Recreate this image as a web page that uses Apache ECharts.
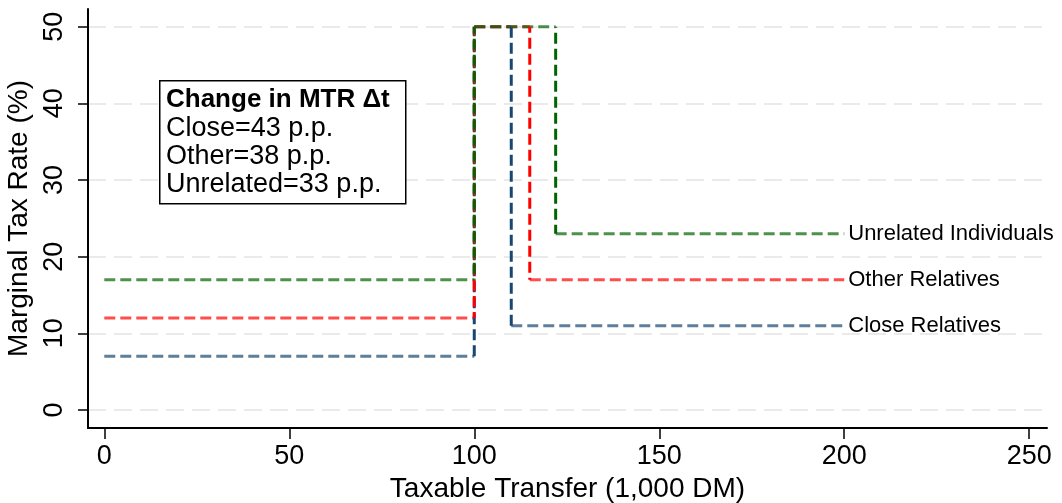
<!DOCTYPE html>
<html>
<head>
<meta charset="utf-8">
<script src="https://cdn.jsdelivr.net/npm/echarts@6/dist/echarts.min.js"></script>
<style>
  html, body { margin: 0; padding: 0; background: #fff; }
  #chart { width: 1062px; height: 503px; }
</style>
</head>
<body>
<div id="chart"></div>
<script>
// ---- data ----
const groupNames = ['Close Relatives', 'Other Relatives', 'Unrelated Individuals'];
const rateBelow = [7, 12, 17];        // MTR below threshold (%)
const rateAtJump = [50, 50, 50];      // MTR in the notch (%)
const rateAbove = [11, 17, 23];       // MTR after the notch (%)
const jumpStart = [100, 100, 100];    // transfer where notch starts (1,000 DM)
const jumpEnd = [110, 115, 122];      // transfer where notch ends (1,000 DM)
const transferStart = [0, 0, 0];
const transferEnd = [200, 200, 200];
const xTicks = [0, 50, 100, 150, 200, 250];
const yTicks = [0, 10, 20, 30, 40, 50];
const boxTitle = 'Change in MTR ';
const boxTitleSymbol = '\u0394t';
const boxLines = ['Close=43 p.p.', 'Other=38 p.p.', 'Unrelated=33 p.p.'];

const colors = ['#1a476f', '#ff0000', '#006400'];
const dashOffsets = [0, 5, 10];
const FONT = "'Liberation Sans', Arial, Helvetica, sans-serif";

const series = [];
// horizontal segments (lighter)
groupNames.forEach((name, i) => {
  series.push({
    name: name,
    type: 'line',
    symbol: 'none',
    animation: false,
    connectNulls: false,
    z: 2,
    lineStyle: { color: colors[i], width: 3, opacity: 0.7, type: [11, 5] },
    itemStyle: { color: colors[i] },
    data: [
      [transferStart[i], rateBelow[i]], [jumpStart[i], rateBelow[i]], [jumpStart[i], '-'],
      [jumpStart[i], rateAtJump[i]], [jumpEnd[i], rateAtJump[i]], [jumpEnd[i], '-'],
      [jumpEnd[i], rateAbove[i]], [transferEnd[i], rateAbove[i]]
    ],
    endLabel: {
      show: true,
      formatter: name,
      color: '#000',
      fontFamily: FONT,
      fontSize: 22,
      distance: 4
    }
  });
});
// vertical segments (full colour)
groupNames.forEach((name, i) => {
  series.push({
    name: name + ' jumps',
    type: 'line',
    symbol: 'none',
    animation: false,
    connectNulls: false,
    z: 3 + i,
    lineStyle: { color: colors[i], width: 3, type: [11, 5], dashOffset: dashOffsets[i] },
    data: [
      [jumpStart[i], rateBelow[i]], [jumpStart[i], rateAtJump[i]], [jumpStart[i], '-'],
      [jumpEnd[i], rateAtJump[i]], [jumpEnd[i], rateAbove[i]]
    ]
  });
});

const chart = echarts.init(document.getElementById('chart'), null, { renderer: 'canvas' });
chart.setOption({
  animation: false,
  backgroundColor: '#fff',
  grid: { left: 88, right: 15, top: 9, bottom: 75, containLabel: false, outerBoundsMode: 'none' },
  xAxis: {
    type: 'value',
    min: -4.4,
    max: 254.8,
    name: 'Taxable Transfer (1,000 DM)',
    nameLocation: 'middle',
    nameGap: 45,
    nameTextStyle: { fontFamily: FONT, fontSize: 28, color: '#000' },
    axisLine: { show: true, onZero: false, lineStyle: { color: '#000', width: 2 } },
    axisTick: { show: true, length: 11, customValues: xTicks, lineStyle: { color: '#000', width: 1.5 } },
    axisLabel: { customValues: xTicks, margin: 15, fontFamily: FONT, fontSize: 27, color: '#000' },
    splitLine: { show: false }
  },
  yAxis: {
    type: 'value',
    min: -2.35,
    max: 52.3,
    name: 'Marginal Tax Rate (%)',
    nameLocation: 'middle',
    nameGap: 50,
    nameTextStyle: { fontFamily: FONT, fontSize: 28, color: '#000' },
    axisLine: { show: true, onZero: false, lineStyle: { color: '#000', width: 2 } },
    axisTick: { show: true, length: 10, customValues: yTicks, lineStyle: { color: '#000', width: 1.5 } },
    axisLabel: { customValues: yTicks, rotate: 90, margin: 20, fontFamily: FONT, fontSize: 27, color: '#000' },
    splitLine: { show: true, lineStyle: { color: '#eaeaea', width: 2, type: [18, 8] } }
  },
  series: series,
  graphic: [
    {
      type: 'rect',
      left: 159, top: 80,
      shape: { width: 246, height: 123 },
      style: { fill: '#fff', stroke: '#000', lineWidth: 1.5 },
      z: 10
    },
    {
      type: 'text',
      left: 166,
      top: 87,
      z: 11,
      style: {
        text: '{b|' + boxTitle + '}{s|' + boxTitleSymbol + '}',
        rich: {
          b: { fill: '#000', fontFamily: FONT, fontSize: 26, fontWeight: 'bold' },
          s: { fill: '#000', fontFamily: FONT, fontSize: 26, fontWeight: 'bold' }
        }
      }
    },
    ...boxLines.map((t, k) => ({
      type: 'text',
      left: 166,
      top: 115 + k * 28,
      z: 11,
      style: {
        text: t,
        fill: '#000',
        font: '27px ' + FONT
      }
    }))
  ]
});
</script>
</body>
</html>
